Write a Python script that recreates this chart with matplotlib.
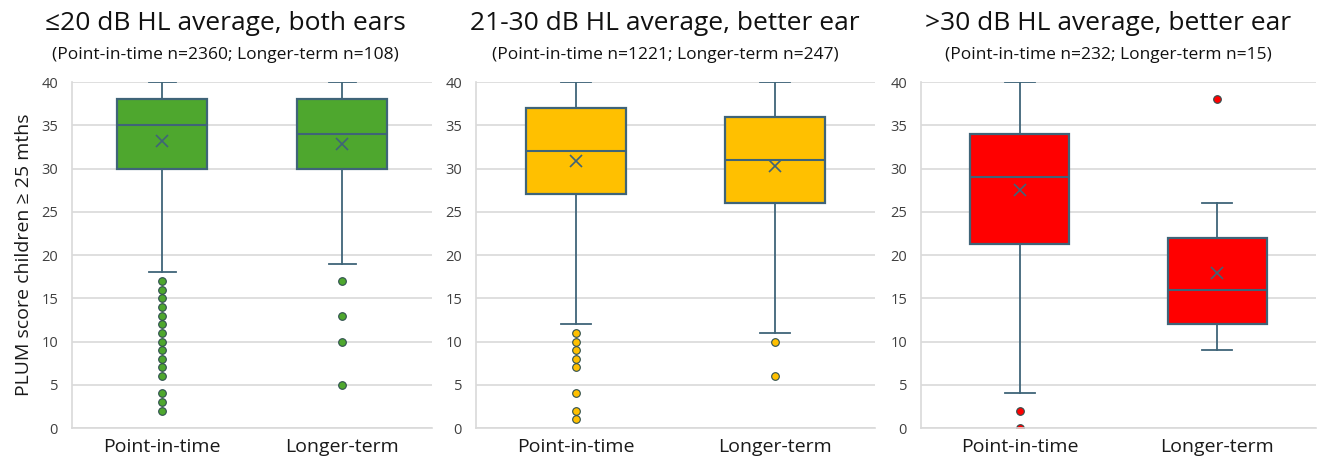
import matplotlib
matplotlib.use('Agg')
import matplotlib.pyplot as plt

plt.rcParams['font.family'] = ['Open Sans', 'DejaVu Sans']

# ---- data ----
groups = ['Point-in-time', 'Longer-term']
titles = ['≤20 dB HL average, both ears',
          '21-30 dB HL average, better ear',
          '>30 dB HL average, better ear']
subtitles = ['(Point-in-time n=2360; Longer-term n=108)',
             '(Point-in-time n=1221; Longer-term n=247)',
             '(Point-in-time n=232; Longer-term n=15)']

whis_lo = [[18, 19], [12, 11], [4, 9]]
q1 = [[30, 30], [27, 26], [21.25, 12]]
median = [[35, 34], [32, 31], [29, 16]]
q3 = [[38, 38], [37, 36], [34, 22]]
whis_hi = [[40, 40], [40, 40], [40, 26]]
means = [[33.2, 32.8], [30.9, 30.3], [27.5, 17.9]]
outliers = [
    [[17, 16, 15, 14, 13, 12, 11, 10, 9, 8, 7, 6, 4, 3, 2], [17, 13, 10, 5]],
    [[11, 10, 9, 8, 7, 4, 2, 1], [10, 6]],
    [[2, 0], [38]],
]

fills = ['#4EA72E', '#FFC000', '#FF0000']
edge = '#3F6478'
grid_c = '#D9D9D9'

fig = plt.figure(figsize=(13.18, 4.62), dpi=100)
fig.patch.set_facecolor('white')

# axes rectangles in pixels (left, right) -> fractions
ax_px = [(72, 432), (476, 875), (921, 1316)]
title_x = [225, 665, 1108]
bottom = 1 - 428 / 462
height = (428 - 82) / 462

for i in range(3):
    l, r = ax_px[i]
    ax = fig.add_axes([l / 1318, bottom, (r - l) / 1318, height])
    stats = []
    for j in range(2):
        stats.append(dict(label=groups[j], med=median[i][j], q1=q1[i][j], q3=q3[i][j],
                          whislo=whis_lo[i][j], whishi=whis_hi[i][j],
                          mean=means[i][j], fliers=outliers[i][j]))
    ax.bxp(stats, positions=[0, 1], widths=0.5, patch_artist=True, showmeans=True,
           capwidths=0.15,
           boxprops=dict(facecolor=fills[i], edgecolor=edge, linewidth=1.6),
           medianprops=dict(color=edge, linewidth=1.5),
           whiskerprops=dict(color=edge, linewidth=1.3),
           capprops=dict(color=edge, linewidth=1.3),
           meanprops=dict(marker='x', markeredgecolor=edge, markersize=9, markeredgewidth=1.2),
           flierprops=dict(marker='o', markerfacecolor=fills[i], markeredgecolor='#2F4F4F',
                           markersize=5.5, markeredgewidth=0.8))
    ax.set_xlim(-0.5, 1.5)
    ax.set_ylim(0, 40)
    ax.set_yticks(range(0, 41, 5))
    ax.yaxis.grid(True, color=grid_c, linewidth=1.2)
    ax.set_axisbelow(True)
    for s in ['top', 'right']:
        ax.spines[s].set_visible(False)
    for s in ['left', 'bottom']:
        ax.spines[s].set_color(grid_c)
        ax.spines[s].set_linewidth(1.2)
    ax.tick_params(axis='both', length=0)
    ax.tick_params(axis='y', labelsize=10.5, labelcolor='#404040', pad=10)
    ax.tick_params(axis='x', labelsize=14, labelcolor='#1a1a1a', pad=7)
    if i == 0:
        ax.set_ylabel('PLUM score children ≥ 25 mths', fontsize=14, color='#1a1a1a', labelpad=6)

    fig.text(title_x[i] / 1318, 1 - 23 / 462, titles[i], fontsize=19, ha='center', va='center',
             color='#111111')
    fig.text(title_x[i] / 1318, 1 - 55 / 462, subtitles[i], fontsize=12.5, ha='center',
             va='center', color='#111111')

fig.savefig('out.png', dpi=100)
